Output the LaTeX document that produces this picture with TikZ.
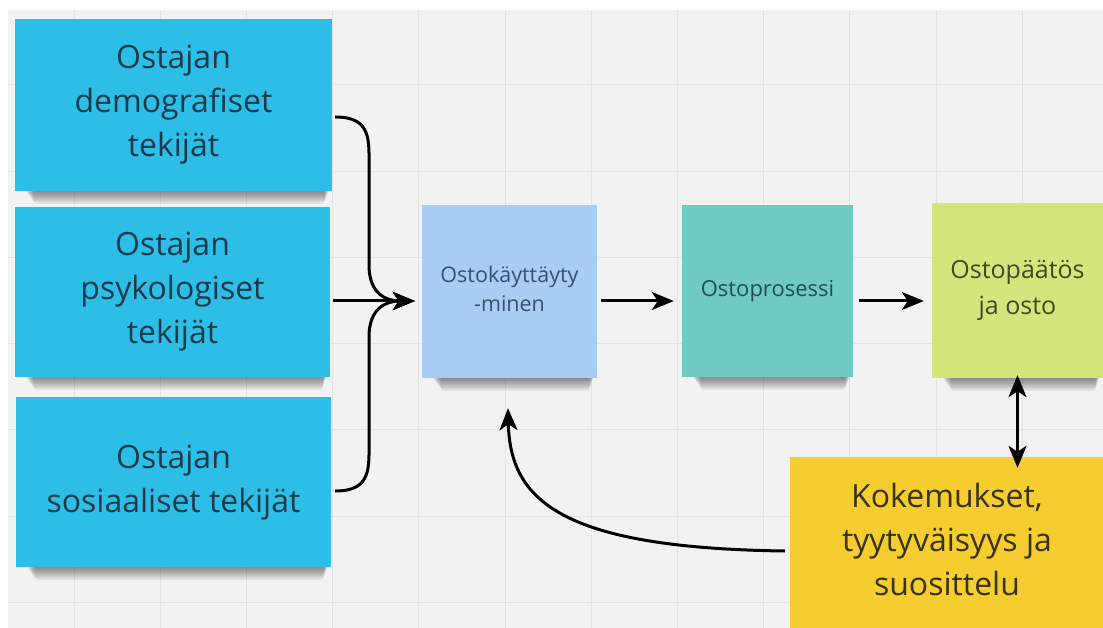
\documentclass[tikz,border=0pt]{standalone}
\usepackage{fontspec}
\setmainfont{Open Sans}
\usetikzlibrary{arrows.meta,calc}
\pgfdeclarelayer{bg}
\pgfdeclarelayer{shadow}
\pgfsetlayers{bg,shadow,main}
\definecolor{canvas}{HTML}{F2F2F2}
\definecolor{gridc}{HTML}{E3E3E3}
\definecolor{cblue}{HTML}{2CBEE6}
\definecolor{tblue}{HTML}{1B3A4B}
\definecolor{clight}{HTML}{A9CCF4}
\definecolor{tlight}{HTML}{3B4F6E}
\definecolor{cteal}{HTML}{6ECAC3}
\definecolor{tteal}{HTML}{22504E}
\definecolor{clime}{HTML}{D4E67B}
\definecolor{tlime}{HTML}{3E4A1F}
\definecolor{cyel}{HTML}{F5CD2F}
\definecolor{tyel}{HTML}{3A3310}
\newcommand{\liftlines}[2]{\raisebox{#1}{\begin{tabular}{@{}c@{}}#2\end{tabular}}}
\tikzset{
  sticky/.style={rectangle, inner sep=0pt, align=center},
  bigtext/.style={font=\fontsize{32}{44}\selectfont},
  gridline/.style={gridc, line width=1pt},
  conn/.style={line width=3pt, black, -{Stealth[length=22pt,width=18pt,inset=6pt]}},
  dconn/.style={line width=3pt, black, {Stealth[length=22pt,width=18pt,inset=6pt]}-{Stealth[length=22pt,width=18pt,inset=6pt]}}
}
\begin{document}
\begin{tikzpicture}[x=1pt,y=-1pt]
\useasboundingbox (0,0) rectangle (1103,628);
\begin{pgfonlayer}{bg}
\fill[white] (0,0) rectangle (1103,628);
\fill[canvas] (8,10) rectangle (1103,628);
\foreach \i in {0,...,11} \draw[gridline] ({74+86.2*\i},10) -- ({74+86.2*\i},628);
\foreach \j in {0,...,6} \draw[gridline] (8,{85+86.2*\j}) -- (1103,{85+86.2*\j});
\end{pgfonlayer}

\node[sticky, bigtext, fill=cblue, text=tblue, minimum width=317pt, minimum height=172pt] (b1) at (173.5,105) {Ostajan\\demografiset\\tekijät};
\node[sticky, bigtext, fill=cblue, text=tblue, minimum width=315pt, minimum height=170pt] (b2) at (172.5,292) {Ostajan\\psykologiset\\tekijät};
\node[sticky, bigtext, fill=cblue, text=tblue, minimum width=315pt, minimum height=170pt] (b3) at (173.5,482) {\liftlines{2pt}{Ostajan\\sosiaaliset tekijät}};
\node[sticky, fill=clight, text=tlight, font=\fontsize{21.5}{29}\selectfont, minimum width=175pt, minimum height=173pt] (ok) at (509.5,291.5) {\liftlines{5pt}{Ostokäyttäyty\\-minen}};
\node[sticky, fill=cteal, text=tteal, font=\fontsize{22}{29}\selectfont, minimum width=171pt, minimum height=172pt] (op) at (767.5,291) {\liftlines{3pt}{Ostoprosessi}};
\node[sticky, fill=clime, text=tlime, font=\fontsize{25}{36}\selectfont, minimum width=171pt, minimum height=175pt] (pa) at (1017.5,290.5) {Ostopäätös\\ja osto};
\node[sticky, bigtext, fill=cyel, text=tyel, minimum width=314pt, minimum height=172pt] (ko) at (947,543) {\liftlines{4pt}{Kokemukset,\\tyytyväisyys ja\\suosittelu}};

\begin{pgfonlayer}{shadow}
\foreach \n in {b1,b2,b3,ok,op,pa}{
  \foreach \k in {1,...,9}{
    \fill[black, opacity=0.055, rounded corners=3pt]
      ([xshift={(10+\k)*1pt}, yshift=12pt]\n.south west) rectangle
      ([xshift={(-3-\k*0.5)*1pt}, yshift={-1.4pt*\k}]\n.south east);
  }
}
\end{pgfonlayer}

% brace connectors into the behaviour box
\draw[conn] ([xshift=3pt,yshift=-12pt]b1.east) .. controls (372,117) and (369,140) .. (369,170) -- (369,265) .. controls (369,293) and (385,301) .. ([xshift=-7pt,yshift=-9.5pt]ok.west);
\draw[conn] ([xshift=3pt,yshift=-9pt]b2.east) -- ([xshift=-7pt,yshift=-9.5pt]ok.west);
\draw[conn] ([xshift=4pt,yshift=-9pt]b3.east) .. controls (372,491) and (369,468) .. (369,438) -- (369,337) .. controls (369,309) and (385,301) .. ([xshift=-7pt,yshift=-9.5pt]ok.west);

\draw[conn] ([xshift=4pt,yshift=-9.5pt]ok.east) -- ([xshift=-8pt,yshift=-10pt]op.west);
\draw[conn] ([xshift=6pt,yshift=-10pt]op.east) -- ([xshift=-8pt,yshift=-10.5pt]pa.west);
\draw[dconn] ([yshift=3pt]pa.south) -- ([yshift=-11pt]pa.south |- ko.north);
\draw[conn] ([xshift=-5pt,yshift=-8pt]ko.west) .. controls (560,548) and (510,500) .. ([xshift=-1.5pt,yshift=-30pt]ok.south);
\end{tikzpicture}
\end{document}
